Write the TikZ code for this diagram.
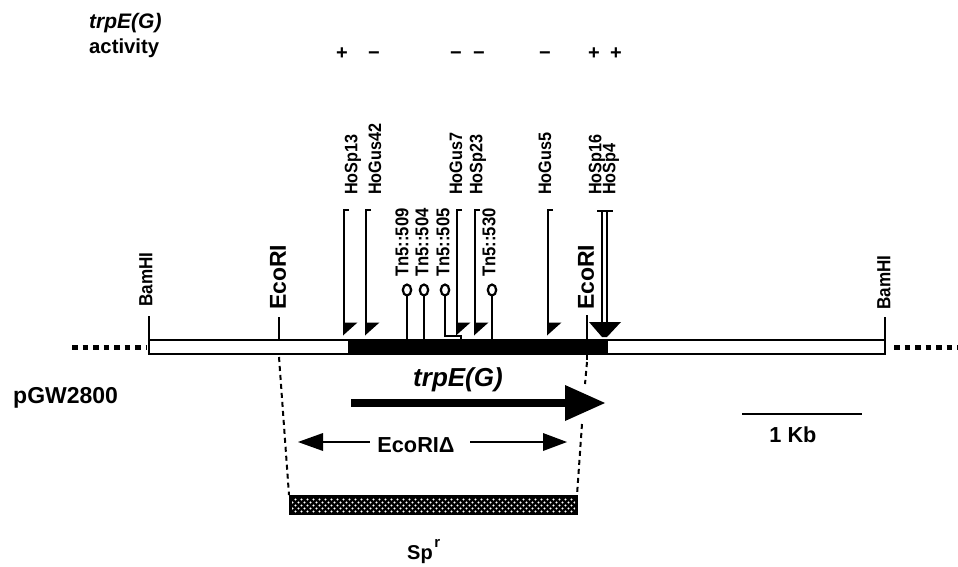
\documentclass[tikz,border=0pt]{standalone}
\usepackage{fontspec}
\setmainfont{Liberation Sans}
\usetikzlibrary{patterns}
\pgfdeclarepatternformonly{spdots}{\pgfqpoint{-1pt}{-1pt}}{\pgfqpoint{7pt}{7pt}}{\pgfqpoint{6pt}{6pt}}{%
  \pgfpathcircle{\pgfqpoint{1.5pt}{1.5pt}}{1.1pt}%
  \pgfpathcircle{\pgfqpoint{4.5pt}{4.5pt}}{1.1pt}%
  \pgfusepath{fill}}
\begin{document}
\begin{tikzpicture}[x=1pt,y=-1pt,
  small/.style={font=\fontsize{18}{18}\selectfont\bfseries, inner sep=0pt, rotate=90, xscale=0.9, anchor=west},
  site/.style={font=\fontsize{23}{23}\selectfont\bfseries, inner sep=0pt, rotate=90, anchor=west},
  bigtxt/.style={font=\fontsize{21}{21}\selectfont\bfseries, inner sep=0pt},
  sign/.style={font=\fontsize{20}{20}\selectfont\bfseries, inner sep=0pt, anchor=base},
  flagline/.style={line width=2pt},
  tick/.style={line width=2.5pt},
  dashline/.style={line width=2pt, dash pattern=on 5pt off 4pt},
  dotline/.style={line width=5pt, dash pattern=on 5.5pt off 5pt},
  tnball/.style={line width=2.2pt, fill=white}]
\useasboundingbox (0,0) rectangle (958,567);

% ---- activity header
\node[bigtxt, font=\fontsize{21}{21}\selectfont\bfseries\itshape, anchor=base west] (acttitle) at (89,29) {trpE(G)};
\node[bigtxt, font=\fontsize{20.3}{21}\selectfont\bfseries, anchor=base west] (activity) at (89,54) {activity};
\foreach \x/\s/\n in {342/+/a1, 374/−/a2, 456/−/a3, 479/−/a4, 545/−/a5, 594/+/a6, 616/+/a7}
  \node[sign] (\n) at (\x,60) {\s};

% ---- map bar
\coordinate (barL) at (149,340);
\coordinate (barR) at (885,354);
\draw[line width=2pt, fill=white] (barL) rectangle (barR);
\fill (348,340) rectangle (608,354);
\draw[dotline] (72,347) -- (146,347);
\draw[dotline] (894,347) -- (958,347);

% restriction sites
\draw[tick] (149,316) -- (149,340);
\draw[tick] (885,317) -- (885,354);
\draw[tick] (279,317) -- (279,340);
\draw[tick] (587,315) -- (587,360);
\node[small, font=\fontsize{19}{19}\selectfont\bfseries] (bam1) at (146,307) {BamHI};
\node[small, font=\fontsize{19}{19}\selectfont\bfseries] (bam2) at (884,310) {BamHI};
\node[site] (eco1) at (278,310) {EcoRI};
\node[site] (eco2) at (586,310) {EcoRI};

% ---- insertion flags (half arrowhead to the right of the line)
\foreach \x/\n in {344/HoSp13, 366/HoGus42, 457/HoGus7, 475/HoSp23, 548/HoGus5} {
  \coordinate (\n-top) at (\x,210);
  \coordinate (\n-tip) at (\x,335);
  \draw[flagline] (\x+5,210) -- (\n-top) -- (\x,332);
  \fill (\x-1,322.5) -- (\x+13.5,322.5) -- (\x-1,335.5) -- cycle;
}
% HoSp16 / HoSp4 pair
\coordinate (HoSp16-top) at (602,211);
\coordinate (HoSp4-top) at (607,211);
\draw[flagline] (HoSp16-top) -- (602,330);
\draw[flagline] (HoSp4-top) -- (607,330);
\draw[flagline] (597,211) -- (613,211);
\fill (589,322) -- (621,322) -- (607,337) -- (602,337) -- cycle;

\node[small] (l1) at (353,195) {HoSp13};
\node[small] (l2) at (375,195) {HoGus42};
\node[small] (l3) at (456,195) {HoGus7};
\node[small] (l4) at (478,195) {HoSp23};
\node[small] (l5) at (545,195) {HoGus5};
\node[small] (l6) at (597,195) {HoSp16};
\node[small] (l7) at (611,195) {HoSp4};

% ---- Tn5 insertions
\foreach \x/\n in {407/t509, 424/t504, 492/t530} {
  \draw[flagline] (\x,296) -- (\x,340);
  \draw[tnball] (\x,290) ellipse [x radius=4.2, y radius=5.5];
}
\draw[flagline] (445,296) -- (445,336) -- (461,336) -- (461,340);
\draw[tnball] (445,290) ellipse [x radius=4.2, y radius=5.5];
\node[small, font=\fontsize{18.5}{18.5}\selectfont\bfseries] (n509) at (402,277) {Tn5::509};
\node[small, font=\fontsize{18.5}{18.5}\selectfont\bfseries] (n504) at (422,277) {Tn5::504};
\node[small, font=\fontsize{18.5}{18.5}\selectfont\bfseries] (n505) at (443,277) {Tn5::505};
\node[small, font=\fontsize{18.5}{18.5}\selectfont\bfseries] (n530) at (489,277) {Tn5::530};

% ---- plasmid name
\node[bigtxt, font=\fontsize{23}{23}\selectfont\bfseries, anchor=base west] (pgw) at (13,403) {pGW2800};

% ---- deletion dashed lines
\draw[dashline] (279,357) -- (289,495);
\draw[dashline] (587,362) -- (585,384);
\draw[dashline] (582,424) -- (577,495);

% ---- trpE(G) gene arrow
\node[font=\fontsize{26}{26}\selectfont\bfseries\itshape, inner sep=0pt, anchor=base] (gene) at (458,386) {trpE(G)};
\draw[line width=8pt] (351,403) -- (566,403);
\fill (565,385) -- (605,403) -- (565,421) -- cycle;

% ---- EcoRI delta
\node[bigtxt, font=\fontsize{21.7}{22}\selectfont\bfseries, anchor=base] (delta) at (416,452) {EcoRIΔ};
\coordinate (dl) at (298,442);
\coordinate (dr) at (567,442);
\draw[line width=2.5pt] (323,442) -- (370,442);
\fill (dl) -- (323,433) -- (323,451) -- cycle;
\draw[line width=2.5pt] (470,442) -- (543,442);
\fill (dr) -- (543,433) -- (543,451) -- cycle;

% ---- Sp cassette
\fill[black] (290,496) rectangle (577,514);
\fill[pattern=spdots, pattern color=white] (292,498) rectangle (575,512);
\draw[line width=1.5pt] (290,496) rectangle (577,514);
\node[font=\fontsize{20}{20}\selectfont\bfseries, inner sep=0pt, anchor=base west] (spr) at (407,559) {Sp\hspace{1.5pt}\raisebox{0.6em}{\fontsize{15}{15}\selectfont\bfseries r}};

% ---- scale bar
\draw[line width=2pt] (742,414) -- (862,414);
\node[bigtxt, font=\fontsize{21.7}{22}\selectfont\bfseries, anchor=base] (kb) at (793,442) {1 Kb};
\end{tikzpicture}
\end{document}
